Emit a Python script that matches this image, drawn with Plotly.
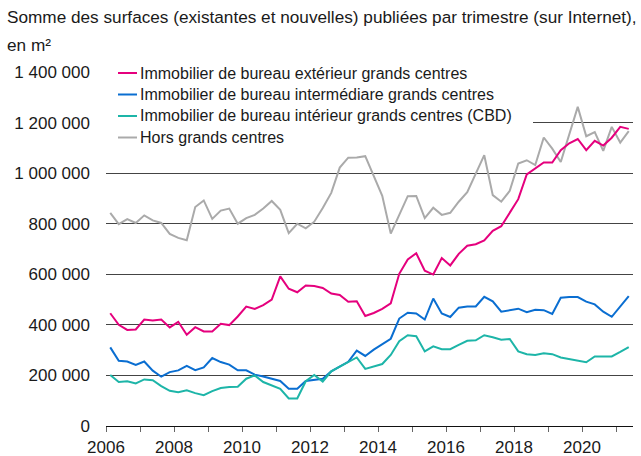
import pandas as pd
import plotly.graph_objects as go

# Quarterly observations, 2006 Q1 to 2021 Q2
quarters = pd.period_range("2006Q1", "2021Q2", freq="Q")

exterieur = [446, 400, 380, 382, 421, 417, 421, 390, 412, 361, 391, 374, 374, 404, 399, 433,
             472, 463, 478, 500, 592, 543, 529, 556, 554, 546, 524, 518, 491, 493, 435, 447,
             463, 485, 602, 659, 683, 614, 599, 664, 635, 681, 713, 719, 734, 772, 790, 841,
             897, 995, 1020, 1042, 1042, 1091, 1118, 1135, 1091, 1128, 1109, 1140, 1183, 1175]
intermediaire = [311, 258, 255, 242, 255, 219, 195, 213, 220, 238, 221, 232, 269, 253, 243, 220,
                 220, 203, 196, 188, 178, 147, 147, 178, 181, 187, 216, 235, 254, 298, 277, 302,
                 323, 345, 425, 448, 445, 421, 504, 445, 431, 468, 473, 473, 511, 493, 452, 458,
                 464, 450, 460, 458, 443, 507, 510, 510, 492, 481, 452, 432, 471, 514]
interieur_cbd = [202, 174, 177, 168, 184, 181, 158, 139, 134, 141, 130, 122, 138, 150, 154, 155,
                 187, 200, 174, 160, 147, 109, 109, 177, 202, 176, 216, 235, 252, 271, 226, 237,
                 245, 281, 335, 359, 355, 295, 315, 304, 304, 321, 337, 339, 359, 351, 341, 344,
                 295, 284, 281, 288, 284, 271, 265, 257, 252, 275, 275, 275, 293, 312]
hors_centres = [843, 798, 818, 803, 833, 813, 803, 760, 744, 735, 866, 892, 819, 852, 860, 800,
                822, 835, 860, 890, 855, 763, 800, 782, 808, 862, 922, 1022, 1061, 1062, 1067, 985,
                910, 761, 832, 909, 910, 822, 863, 835, 843, 887, 925, 998, 1071, 913, 887, 930,
                1038, 1051, 1032, 1141, 1097, 1044, 1153, 1262, 1146, 1162, 1088, 1183, 1121, 1166]

series_names = [
    "Immobilier de bureau extérieur grands centres",
    "Immobilier de bureau intermédiare grands centres",
    "Immobilier de bureau intérieur grands centres (CBD)",
    "Hors grands centres",
]
series_values = [exterieur, intermediaire, interieur_cbd, hors_centres]
series_colors = ["#E5007D", "#0A6ED1", "#1DB5A8", "#AAAAAA"]

year_ticks = list(range(2006, 2022))
year_labels = [str(y) if y % 2 == 0 else "" for y in year_ticks]
y_ticks = list(range(0, 1_400_001, 200_000))

# mid-quarter position in decimal years
x_pos = [q.year + (q.quarter - 0.5) / 4 for q in quarters]

FONT = "Liberation Sans, Arial, sans-serif"
TEXT = "#1a1a1a"

# plot area geometry in pixels
W, H = 641, 456
L, R, T, B = 106, 633, 72, 426


def px(x):
    return (x - L) / (R - L)


def py(y):
    return (B - y) / (B - T)


fig = go.Figure()
# draw grey series first so coloured lines sit above it
order = [3, 0, 1, 2]
for k in order:
    fig.add_trace(go.Scatter(
        x=x_pos, y=[v * 1000 for v in series_values[k]],
        mode="lines", name=series_names[k],
        line=dict(color=series_colors[k], width=2),
        showlegend=False, hoverinfo="skip",
    ))

shapes = [
    # white panel behind the legend block
    dict(type="rect", xref="paper", yref="paper", x0=px(L - 1), x1=px(533), y0=py(150),
         y1=py(T - 2), fillcolor="white", line=dict(width=0), layer="above"),
]
annotations = [
    dict(text="Somme des surfaces (existantes et nouvelles) publiées par trimestre (sur Internet),",
         xref="paper", yref="paper", x=px(5), y=py(17), xanchor="left", yanchor="middle",
         showarrow=False, font=dict(family=FONT, size=17.2, color=TEXT)),
    dict(text="en m²", xref="paper", yref="paper", x=px(5), y=py(45), xanchor="left",
         yanchor="middle", showarrow=False, font=dict(family=FONT, size=17.2, color=TEXT)),
]

legend_rows = [73, 94.5, 116, 137.5]
for name, color, yrow in zip(series_names, series_colors, legend_rows):
    shapes.append(dict(type="line", xref="paper", yref="paper", x0=px(118), x1=px(137),
                       y0=py(yrow), y1=py(yrow), line=dict(color=color, width=2), layer="above"))
    annotations.append(dict(text=name, xref="paper", yref="paper", x=px(138), y=py(yrow),
                            xanchor="left", yanchor="middle", showarrow=False,
                            font=dict(family=FONT, size=16, color=TEXT)))

fig.update_layout(
    width=W, height=H,
    margin=dict(l=L, r=W - R, t=T, b=H - B, pad=0),
    paper_bgcolor="white", plot_bgcolor="white",
    separators=". ",
    font=dict(family=FONT, size=17, color=TEXT),
    shapes=shapes, annotations=annotations,
    xaxis=dict(
        range=[2006, 2021.5], tickmode="array", tickvals=year_ticks, ticktext=year_labels,
        showgrid=False, zeroline=False, showline=True, linecolor="#111", linewidth=1,
        ticks="outside", ticklen=5, tickwidth=1, tickcolor="#666", automargin=False,
        tickfont=dict(family=FONT, size=17, color=TEXT), ticklabelstandoff=1,
    ),
    yaxis=dict(
        range=[0, 1_400_000], tickmode="array", tickvals=y_ticks, tickformat=",d",
        showgrid=True, gridcolor="#444", gridwidth=1, zeroline=False, showline=False,
        ticks="", tickfont=dict(family=FONT, size=17, color=TEXT), ticklabelstandoff=15,
        automargin=False,
    ),
)

fig.write_html("out.html")
